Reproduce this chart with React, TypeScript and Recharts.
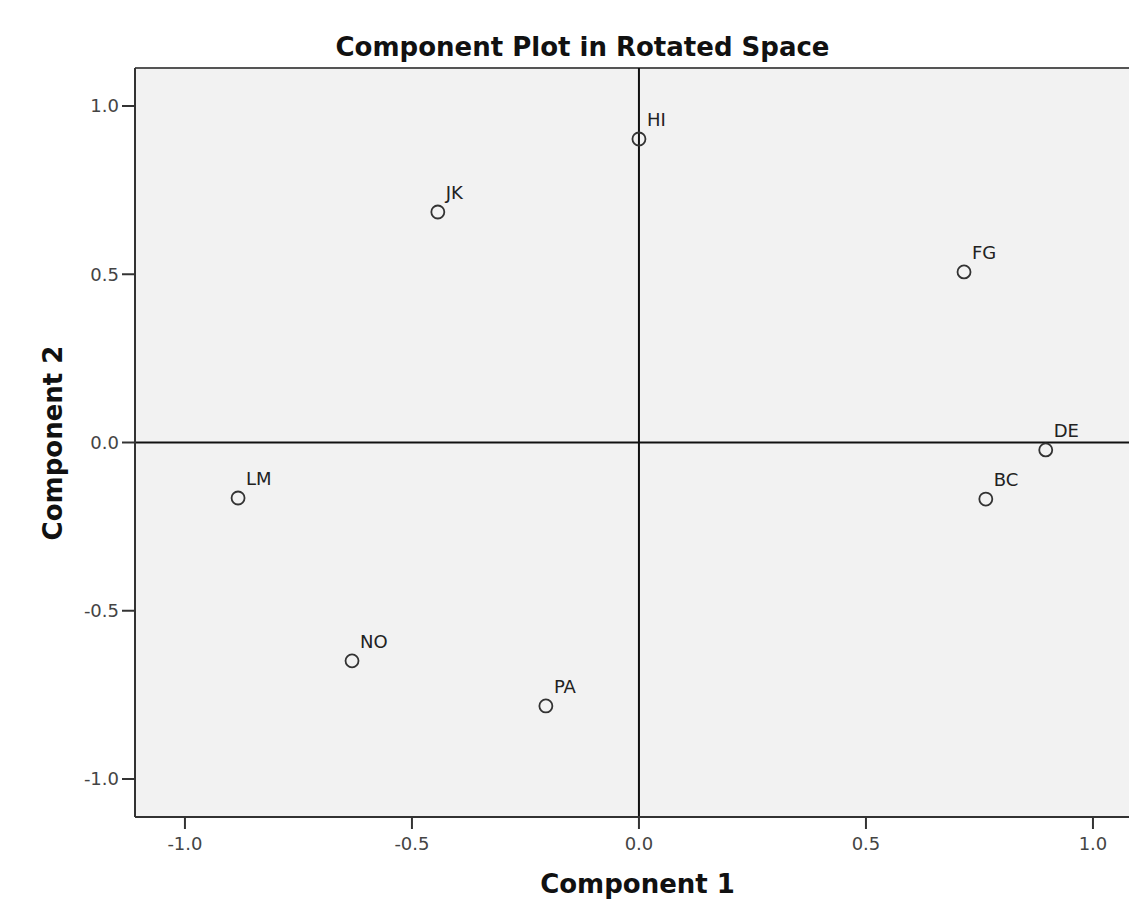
import React from 'react';
import { ScatterChart, Scatter, XAxis, YAxis, CartesianGrid, ReferenceLine } from 'recharts';

const names = ['HI', 'JK', 'FG', 'DE', 'BC', 'LM', 'NO', 'PA'];
const comp1 = [0.0, -0.443, 0.716, 0.896, 0.764, -0.883, -0.632, -0.205];
const comp2 = [0.902, 0.685, 0.507, -0.022, -0.168, -0.165, -0.649, -0.783];
const ticks = [-1.0, -0.5, 0.0, 0.5, 1.0];

const data = names.map((n, i) => ({ name: n, x: comp1[i], y: comp2[i] }));

const FONT = '"DejaVu Sans", sans-serif';

const PointShape = (props: any) => {
  const { cx, cy, payload } = props;
  return (
    <g>
      <circle cx={cx} cy={cy} r={6.5} fill="none" stroke="#333" strokeWidth={1.8} />
      <text x={cx + 8} y={cy - 13} fontSize={18} fill="#222" fontFamily={FONT}>
        {payload.name}
      </text>
    </g>
  );
};

const titleStyle: React.CSSProperties = {
  position: 'absolute',
  textAlign: 'center',
  fontSize: 26,
  lineHeight: '30px',
  height: 30,
  fontWeight: 'bold',
  color: '#111',
  whiteSpace: 'nowrap',
};

export default function App() {
  return (
    <div style={{ position: 'relative', width: 1129, height: 906, fontFamily: FONT }}>
      <div style={{ position: 'absolute', left: -2, top: -8, width: 1, height: 914, background: '#bbb' }} />
      <ScatterChart width={1129} height={906} margin={{ top: 60, right: 0, bottom: 57, left: 67 }}>
        <CartesianGrid horizontal={false} vertical={false} fill="#f2f2f2" />
        <XAxis
          type="number"
          dataKey="x"
          domain={[-1.11, 1.097]}
          allowDataOverflow
          ticks={ticks}
          tickFormatter={(v: number) => v.toFixed(1)}
          height={40}
          tickSize={12}
          tickMargin={8}
          axisLine={{ stroke: '#333', strokeWidth: 2 }}
          tickLine={{ stroke: '#333', strokeWidth: 2 }}
          tick={{ fontSize: 18, fill: '#444', fontFamily: FONT }}
        />
        <YAxis
          type="number"
          dataKey="y"
          domain={[-1.113, 1.113]}
          allowDataOverflow
          ticks={ticks}
          tickFormatter={(v: number) => v.toFixed(1)}
          width={60}
          tickSize={13}
          tickMargin={3}
          axisLine={{ stroke: '#333', strokeWidth: 2 }}
          tickLine={{ stroke: '#333', strokeWidth: 2 }}
          tick={{ fontSize: 18, fill: '#444', fontFamily: FONT }}
        />
        <ReferenceLine y={1.113} stroke="#555" strokeWidth={2} />
        <ReferenceLine x={0} stroke="#111" strokeWidth={2} />
        <ReferenceLine y={0} stroke="#111" strokeWidth={2} />
        <Scatter data={data} shape={PointShape} isAnimationActive={false} />
      </ScatterChart>
      <div style={{ ...titleStyle, left: 574.5 - 350, top: 24, width: 700 }}>
        Component Plot in Rotated Space
      </div>
      <div style={{ ...titleStyle, left: 629.5 - 200, top: 861, width: 400 }}>
        Component 1
      </div>
      <div style={{ ...titleStyle, left: 45 - 200, top: 434.5 - 15, width: 400, transform: 'rotate(-90deg)' }}>
        Component 2
      </div>
    </div>
  );
}
